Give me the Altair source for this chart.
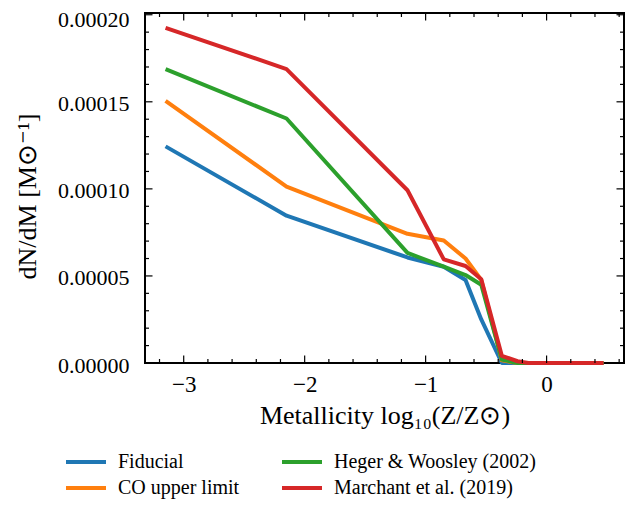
import altair as alt
import pandas as pd
import numpy as np

# ---- data ----
log_z = [-3.15, -2.15, -1.15, -0.85, -0.67, -0.54, -0.37, -0.24, -0.15, 0.47]
fiducial = [1.244e-4, 0.846e-4, 0.606e-4, 0.553e-4, 0.477e-4, 0.25e-4, 0.0, 0.0, 0.0, 0.0]
co_upper = [1.505e-4, 1.013e-4, 0.742e-4, 0.704e-4, 0.600e-4, 0.477e-4, 0.015e-4, 0.0, 0.0, 0.0]
heger = [1.688e-4, 1.404e-4, 0.632e-4, 0.553e-4, 0.505e-4, 0.449e-4, 0.02e-4, 0.0, 0.0, 0.0]
marchant = [1.925e-4, 1.688e-4, 0.992e-4, 0.595e-4, 0.557e-4, 0.481e-4, 0.041e-4, 0.01e-4, 0.0, 0.0]

series_names = ["Fiducial", "CO upper limit", "Heger & Woosley (2002)", "Marchant et al. (2019)"]
series_values = [fiducial, co_upper, heger, marchant]
series_colors = ["#1f77b4", "#ff7f0e", "#2ca02c", "#d62728"]

x_major = [-3, -2, -1, 0]
x_minor = [round(v, 1) for v in np.arange(-3.2, 0.61, 0.2) if abs(v - round(v)) > 1e-6]
y_major = [0.0, 0.00005, 0.0001, 0.00015, 0.0002]
y_minor = [round(i * 1e-5, 6) for i in range(0, 21) if i % 5 != 0]

x_domain = [-3.32, 0.64]
y_domain = [0.0, 0.000201]

W, H = 479, 350
FONT = "Liberation Serif"

xscale = alt.Scale(domain=x_domain, nice=False, zero=False)
yscale = alt.Scale(domain=y_domain, nice=False, zero=False)

xaxis = alt.Axis(values=x_major, format="d", ticks=False, tickSize=0, domain=False, grid=False,
                 labelFont=FONT, labelFontSize=23, labelColor="black", labelPadding=28,
                 labelBaseline="alphabetic",
                 title="Metallicity log₁₀(Z/Z⊙)", titleFont=FONT, titleFontSize=26,
                 titleFontWeight="normal", titleColor="black", titleBaseline="alphabetic",
                 titleY=60)
yaxis = alt.Axis(values=y_major, format=".5f", ticks=False, tickSize=0, domain=False, grid=False,
                 labelFont=FONT, labelFontSize=22, labelColor="black", labelPadding=16,
                 labelOffset={"condition": {"test": "datum.value >= 0.0002", "value": 5}, "value": 2},
                 title="dN/dM [M⊙⁻¹]", titleFont=FONT, titleFontSize=26,
                 titleFontWeight="normal", titleColor="black", titleBaseline="alphabetic",
                 titleAngle=270, titleX=-110, titleY=183, titleAlign="center")


def X(field):
    return alt.X(field, type="quantitative", scale=xscale, axis=xaxis)


def Y(field):
    return alt.Y(field, type="quantitative", scale=yscale, axis=yaxis)


color = alt.Color("series:N",
                  scale=alt.Scale(domain=series_names, range=series_colors),
                  legend=alt.Legend(orient="none", legendX=-71, legendY=437, columns=2,
                                    symbolType="M-2,0H2", symbolSize=400, symbolStrokeWidth=4,
                                    labelFont=FONT, labelFontSize=20, labelColor="black",
                                    labelOffset=20, columnPadding=34, rowPadding=4,
                                    title=None, labelLimit=400))

layers = []
for name, vals in zip(series_names, series_values):
    df = pd.DataFrame({"x": log_z, "y": vals, "series": name})
    layers.append(
        alt.Chart(df).mark_line(strokeWidth=4, strokeCap="butt", strokeJoin="round")
        .encode(x=X("x"), y=Y("y"), color=color)
    )

xt_major = pd.DataFrame({"x": x_major})
xt_minor = pd.DataFrame({"x": x_minor})
yt_major = pd.DataFrame({"y": y_major})
yt_minor = pd.DataFrame({"y": y_minor})

MAJ, MIN = 7.5, 4
tick = dict(color="black", strokeWidth=1.2)
for d, L in ((xt_major, MAJ), (xt_minor, MIN)):
    layers.append(alt.Chart(d).mark_rule(**tick).encode(x=X("x"), y=alt.value(H), y2=alt.value(H - L)))
    layers.append(alt.Chart(d).mark_rule(**tick).encode(x=X("x"), y=alt.value(0), y2=alt.value(L)))
for d, L in ((yt_major, MAJ), (yt_minor, MIN)):
    layers.append(alt.Chart(d).mark_rule(**tick).encode(y=Y("y"), x=alt.value(0), x2=alt.value(L)))
    layers.append(alt.Chart(d).mark_rule(**tick).encode(y=Y("y"), x=alt.value(W), x2=alt.value(W - L)))

chart = (
    alt.layer(*layers)
    .properties(width=W, height=H,
                autosize=alt.AutoSizeParams(type="none"),
                padding={"left": 137, "top": 5, "right": 10, "bottom": 136})
    .configure_view(stroke="black", strokeWidth=2)
)

chart.save("out.html", embed_options={"renderer": "svg", "actions": False})
